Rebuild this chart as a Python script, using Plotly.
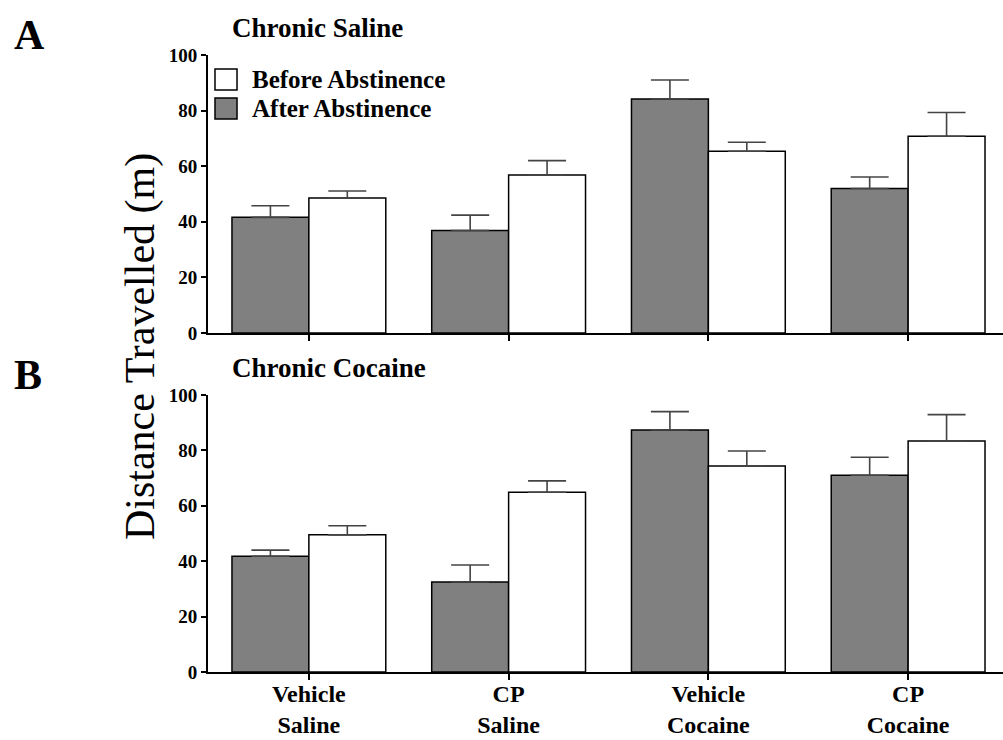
import plotly.graph_objects as go
from plotly.subplots import make_subplots

categories = ["Vehicle<br>Saline", "CP<br>Saline", "Vehicle<br>Cocaine", "CP<br>Cocaine"]

# Panel A: Chronic Saline
a_after = [41.6, 36.9, 84.2, 52.0]
a_after_err = [4.2, 5.5, 6.8, 4.1]
a_before = [48.6, 56.8, 65.4, 70.8]
a_before_err = [2.5, 5.2, 3.2, 8.5]

# Panel B: Chronic Cocaine
b_after = [41.8, 32.5, 87.4, 71.0]
b_after_err = [2.2, 6.1, 6.6, 6.5]
b_before = [49.5, 64.9, 74.4, 83.4]
b_before_err = [3.3, 4.1, 5.4, 9.5]

y_ticks = [0, 20, 40, 60, 80, 100]
series_names = ["Before Abstinence", "After Abstinence"]

FONT = "Liberation Serif"
GRAY = "#808080"

fig = make_subplots(rows=2, cols=1)

def add_panel(row, after, after_err, before, before_err):
    fig.add_trace(go.Bar(
        x=categories, y=after, name=series_names[1],
        marker=dict(color=GRAY, line=dict(color="black", width=1.5)),
        error_y=dict(type="data", symmetric=False, array=after_err,
                     arrayminus=[0] * len(after_err),
                     color="#444444", thickness=1.6, width=19),
        showlegend=False, offsetgroup="after",
    ), row=row, col=1)
    fig.add_trace(go.Bar(
        x=categories, y=before, name=series_names[0],
        marker=dict(color="white", line=dict(color="black", width=1.5)),
        error_y=dict(type="data", symmetric=False, array=before_err,
                     arrayminus=[0] * len(before_err),
                     color="#444444", thickness=1.6, width=19),
        showlegend=False, offsetgroup="before",
    ), row=row, col=1)

add_panel(1, a_after, a_after_err, a_before, a_before_err)
add_panel(2, b_after, b_after_err, b_before, b_before_err)

fig.update_layout(
    yaxis=dict(domain=[0.5494, 1.0]),
    yaxis2=dict(domain=[0.0, 0.449]),
)

for r in (1, 2):
    fig.update_yaxes(range=[0, 100], tickvals=y_ticks, ticks="outside", ticklen=5,
                     tickwidth=2, tickcolor="black", showline=True, linecolor="black",
                     linewidth=2, showgrid=False, zeroline=False, automargin=False,
                     tickfont=dict(family=FONT, size=19, color="black", weight="bold"),
                     row=r, col=1)
    fig.update_xaxes(range=[-0.505, 3.475], ticks="outside", ticklen=6, tickwidth=2,
                     tickcolor="black", showline=True, linecolor="black", linewidth=2,
                     showgrid=False, zeroline=False, automargin=False,
                     ticklabelstandoff=-7,
                     tickfont=dict(family=FONT, size=24, color="black", weight="bold"),
                     row=r, col=1)
fig.update_xaxes(showticklabels=False, row=1, col=1)

annotations = [
    dict(text="<b>A</b>", x=-0.2465, y=1.0324, xanchor="left", yanchor="middle",
         font=dict(family=FONT, size=42, color="black")),
    dict(text="<b>B</b>", x=-0.2465, y=0.4814, xanchor="left", yanchor="middle",
         font=dict(family=FONT, size=42, color="black")),
    dict(text="<b>Chronic Saline</b>", x=0.0277, y=1.0438, xanchor="left", yanchor="middle",
         font=dict(family=FONT, size=27, color="black")),
    dict(text="<b>Chronic Cocaine</b>", x=0.0277, y=0.4927, xanchor="left", yanchor="middle",
         font=dict(family=FONT, size=27, color="black")),
    dict(text="Distance Travelled (m)", x=-0.0855, y=0.5267, xanchor="center", yanchor="middle",
         textangle=-90, font=dict(family=FONT, size=42, color="black")),
    # legend texts
    dict(text="<b>" + series_names[0] + "</b>", x=0.0528, y=0.9611, xanchor="left",
         yanchor="middle", font=dict(family=FONT, size=25, color="black")),
    dict(text="<b>" + series_names[1] + "</b>", x=0.0528, y=0.9141, xanchor="left",
         yanchor="middle", font=dict(family=FONT, size=25, color="black")),
]
for a in annotations:
    a.update(xref="paper", yref="paper", showarrow=False)

shapes = [
    dict(type="rect", xref="paper", yref="paper", x0=0.0088, x1=0.0365, y0=0.9433, y1=0.9773,
         fillcolor="white", line=dict(color="black", width=1.5)),
    dict(type="rect", xref="paper", yref="paper", x0=0.0088, x1=0.0365, y0=0.8963, y1=0.9303,
         fillcolor=GRAY, line=dict(color="black", width=1.5)),
]

fig.update_layout(
    width=1003, height=740,
    margin=dict(l=208, r=0, t=55, b=68, autoexpand=False),
    paper_bgcolor="white", plot_bgcolor="white",
    barmode="group", bargap=0.23, bargroupgap=0,
    annotations=annotations, shapes=shapes,
    showlegend=False,
    font=dict(family=FONT, color="black"),
)

fig.write_html("out.html")
